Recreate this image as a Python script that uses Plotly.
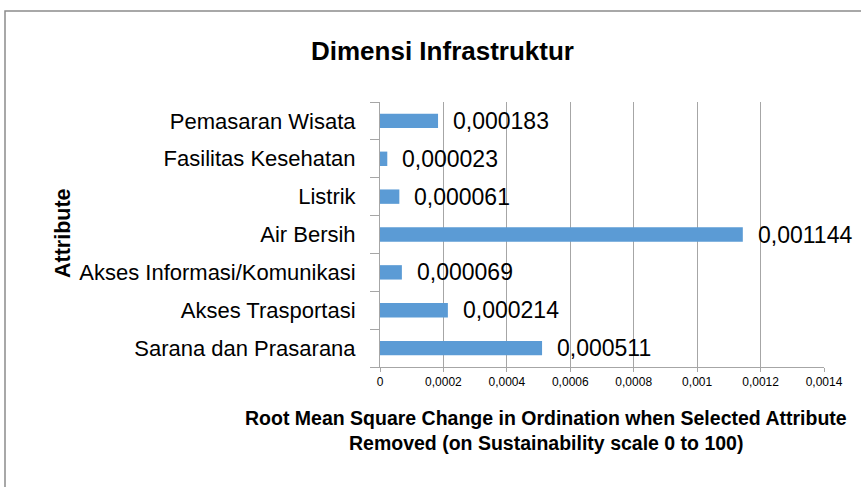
import plotly.graph_objects as go

categories = ["Sarana dan Prasarana", "Akses Trasportasi", "Akses Informasi/Komunikasi",
              "Air Bersih", "Listrik", "Fasilitas Kesehatan", "Pemasaran Wisata"]
values = [0.000511, 0.000214, 0.000069, 0.001144, 0.000061, 0.000023, 0.000183]
labels = ["0,000511", "0,000214", "0,000069", "0,001144", "0,000061", "0,000023", "0,000183"]
tick_vals = [0, 0.0002, 0.0004, 0.0006, 0.0008, 0.001, 0.0012, 0.0014]
tick_text = ["0", "0,0002", "0,0004", "0,0006", "0,0008", "0,001", "0,0012", "0,0014"]

W, H = 861, 487
L, R, T, B = 380, 824, 102, 367

FONT = "Liberation Sans, Arial, sans-serif"

fig = go.Figure()
fig.add_trace(go.Bar(
    y=categories, x=values, orientation="h",
    marker=dict(color="#5b9bd5", line=dict(width=0)),
    hoverinfo="x+y",
))

annotations = []
for c, v, t in zip(categories, values, labels):
    annotations.append(dict(x=v, y=c, xref="x", yref="y", text=t, showarrow=False,
                            xanchor="left", yanchor="middle", xshift=13,
                            font=dict(family=FONT, size=23, color="#000")))

def px2x(px):
    return (px - L) / (R - L)

def py2y(py):
    return (B - py) / (B - T)

annotations += [
    dict(x=px2x(442), y=py2y(51), xref="paper", yref="paper", text="<b>Dimensi Infrastruktur</b>",
         showarrow=False, xanchor="center", yanchor="middle",
         font=dict(family=FONT, size=26, color="#000")),
    dict(x=px2x(546), y=py2y(418), xref="paper", yref="paper",
         text="<b>Root Mean Square Change in Ordination when Selected Attribute</b>",
         showarrow=False, xanchor="center", yanchor="middle",
         font=dict(family=FONT, size=19.5, color="#000")),
    dict(x=px2x(546), y=py2y(443), xref="paper", yref="paper",
         text="<b>Removed (on Sustainability scale 0 to 100)</b>",
         showarrow=False, xanchor="center", yanchor="middle",
         font=dict(family=FONT, size=19.5, color="#000")),
    dict(x=px2x(63), y=py2y(233), xref="paper", yref="paper", text="<b>Attribute</b>",
         showarrow=False, xanchor="center", yanchor="middle", textangle=-90,
         font=dict(family=FONT, size=21.5, color="#000")),
]

fig.update_layout(
    width=W, height=H,
    margin=dict(l=L, r=W - R, t=T, b=H - B),
    paper_bgcolor="white", plot_bgcolor="white",
    showlegend=False,
    bargap=0.62,
    annotations=annotations,
    shapes=[dict(type="rect", xref="paper", yref="paper",
                 x0=px2x(5), x1=px2x(875), y0=py2y(500), y1=py2y(11),
                 line=dict(color="#8c8c8c", width=1.5), fillcolor="rgba(0,0,0,0)", layer="below")],
    xaxis=dict(range=[0, 0.0014], tickvals=tick_vals, ticktext=tick_text,
               showgrid=True, gridcolor="#a6a6a6", gridwidth=1,
               showline=True, linecolor="#a6a6a6", linewidth=1,
               ticks="outside", ticklen=4, tickcolor="#a6a6a6",
               tickfont=dict(family=FONT, size=12, color="#000"),
               zeroline=False, fixedrange=True),
    yaxis=dict(categoryorder="array", categoryarray=categories,
               showgrid=False, showline=True, linecolor="#a6a6a6", linewidth=1,
               ticks="outside", tickson="boundaries", ticklen=9, tickcolor="#a6a6a6",
               tickfont=dict(family=FONT, size=22, color="#000"),
               ticklabelstandoff=19, fixedrange=True),
)

fig.write_html("out.html", config={"displayModeBar": False},
               post_script="document.body.style.margin='0';document.body.style.padding='0';")
